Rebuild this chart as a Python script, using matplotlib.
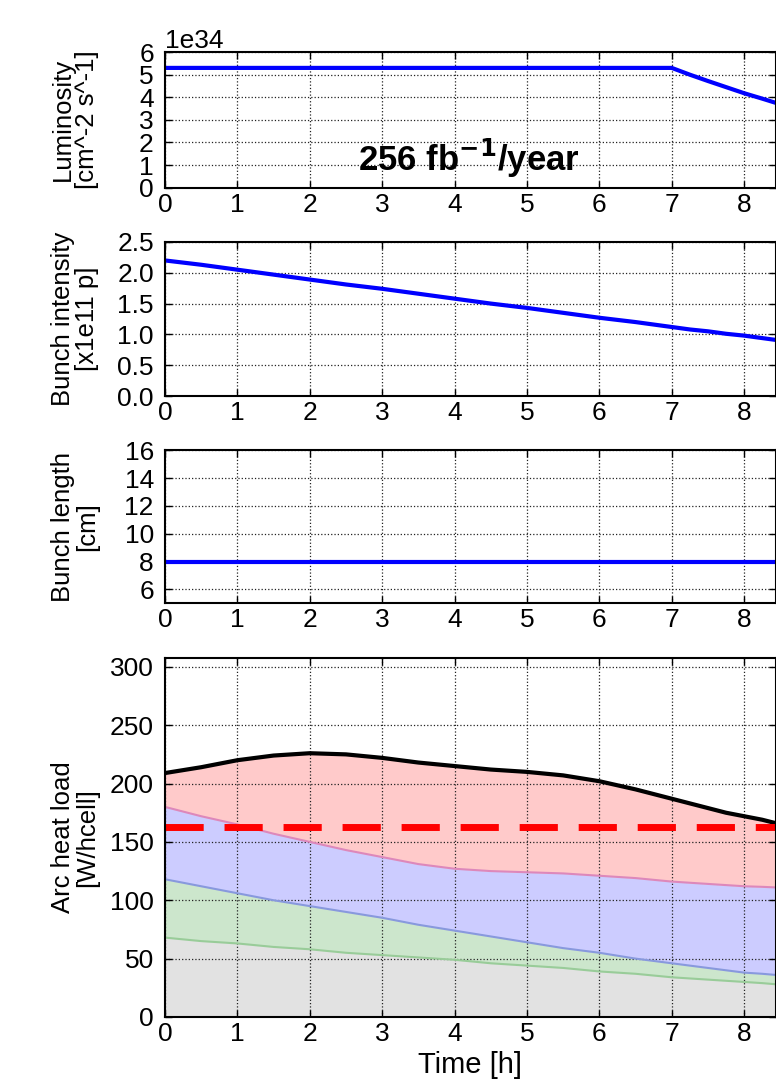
import matplotlib
matplotlib.use("Agg")
import matplotlib.pyplot as plt
import numpy as np

plt.rcParams["font.family"] = ["Liberation Sans", "DejaVu Sans"]

# time axis [h]
t = [0, 0.5, 1, 1.5, 2, 2.5, 3, 3.5, 4, 4.5, 5, 5.5, 6, 6.5, 7, 7.25, 7.5, 7.75, 8, 8.25, 8.44]

# luminosity in units of 1e34
lumi = [5.3, 5.3, 5.3, 5.3, 5.3, 5.3, 5.3, 5.3, 5.3, 5.3, 5.3, 5.3, 5.3, 5.3, 5.3,
        5.0, 4.72, 4.45, 4.18, 3.94, 3.75]

# bunch intensity [x1e11 p]
intensity = [2.2, 2.13, 2.05, 1.97, 1.89, 1.81, 1.74, 1.66, 1.58, 1.5, 1.43, 1.35,
             1.27, 1.2, 1.12, 1.08, 1.05, 1.01, 0.98, 0.94, 0.91]

# bunch length [cm]
blength = [8] * 21

# cumulative heat load curves [W/hcell]
hl_gray = [68, 65, 63, 60, 58, 55, 53, 51, 49, 46, 44, 42, 39, 37, 34, 33, 32, 31, 30, 29, 28]
hl_green = [118, 112, 106, 100, 95, 90, 85, 79, 74, 69, 64, 59, 55, 50, 46, 44, 42, 40, 38,
            37, 36]
hl_blue = [180, 172, 165, 157, 150, 143, 137, 131, 127, 125, 124, 123, 121, 119, 116, 115,
           114, 113, 112, 111.5, 111]
hl_total = [209, 214, 220, 224, 226, 225, 222, 218, 215, 212, 210, 207, 202, 195, 187, 183,
            179, 175, 172, 169, 166]
hl_limit = 163

fig = plt.figure(figsize=(7.76, 10.85), dpi=100)

left = 0.2126
width = 1.0 - left
boxes = [
    (0.827, 0.952),
    (0.635, 0.777),
    (0.444, 0.585),
    (0.0627, 0.394),
]
axes = []
for b, tp in boxes:
    axes.append(fig.add_axes([left, b, width, tp - b]))

tick_fs = 19
label_fs = 18.5

for ax in axes:
    ax.set_xlim(0, 8.44)
    ax.set_xticks(range(0, 9))
    ax.grid(True, linestyle=":", color="#222222", linewidth=0.9)
    ax.tick_params(direction="in", top=True, right=True, labelsize=tick_fs,
                   length=5, width=1)
    ax.tick_params(axis="y", pad=8)
    for s in ax.spines.values():
        s.set_linewidth(1.5)

ax1, ax2, ax3, ax4 = axes

ax1.plot(t, np.array(lumi) * 1e34, color="blue", lw=3)
ax1.set_ylim(0, 6e34)
ax1.set_yticks(np.arange(0, 7) * 1e34)
ax1.yaxis.get_offset_text().set_fontsize(tick_fs)
ax1.set_ylabel("Luminosity\n[cm^-2 s^-1]", fontsize=label_fs, linespacing=1.0)
ax1.text(4.2, 1.3e34, r"256 fb$^{\mathbf{-1}}$/year", fontsize=25, fontweight="bold",
         ha="center", va="center")

ax2.plot(t, intensity, color="blue", lw=3)
ax2.set_ylim(0, 2.5)
ax2.set_yticks([0.0, 0.5, 1.0, 1.5, 2.0, 2.5])
ax2.set_yticklabels(["0.0", "0.5", "1.0", "1.5", "2.0", "2.5"])
ax2.set_ylabel("Bunch intensity\n[x1e11 p]", fontsize=label_fs, linespacing=1.0)

ax3.plot(t, blength, color="blue", lw=3)
ax3.set_ylim(5, 16)
ax3.set_yticks([6, 8, 10, 12, 14, 16])
ax3.set_ylabel("Bunch length\n[cm]", fontsize=label_fs, linespacing=1.0)

ax4.fill_between(t, 0, hl_gray, color="#e2e2e2", lw=0)
ax4.fill_between(t, hl_gray, hl_green, color="#cce6cc", lw=0)
ax4.fill_between(t, hl_green, hl_blue, color="#ccccff", lw=0)
ax4.fill_between(t, hl_blue, hl_total, color="#ffcaca", lw=0)
ax4.plot(t, hl_gray, color="#99cc99", lw=1.5)
ax4.plot(t, hl_green, color="#8899dd", lw=1.5)
ax4.plot(t, hl_blue, color="#dd88bb", lw=1.5)
ax4.plot(t, hl_total, color="black", lw=3)
ax4.axhline(hl_limit, color="red", lw=5, dashes=(5.5, 3))
ax4.set_ylim(0, 308)
ax4.set_yticks([0, 50, 100, 150, 200, 250, 300])
ax4.set_ylabel("Arc heat load\n[W/hcell]", fontsize=label_fs, linespacing=1.0)
ax4.set_xlabel("Time [h]", fontsize=21)

for ax in axes:
    ax.yaxis.set_label_coords(-0.108, 0.5)

fig.savefig("out.png", dpi=100)
